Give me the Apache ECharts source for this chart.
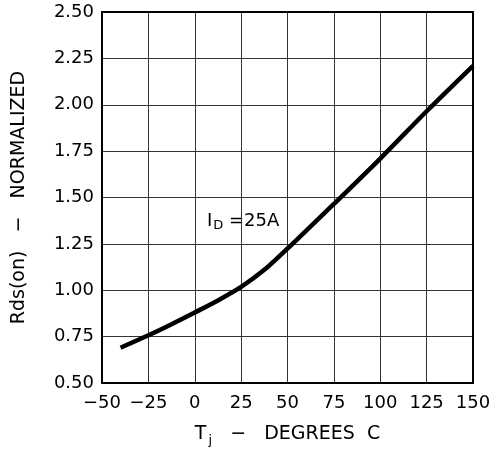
<!DOCTYPE html>
<html>
<head>
<meta charset="utf-8">
<script src="https://cdn.jsdelivr.net/npm/echarts@6/dist/echarts.min.js"></script>
<style>html,body{margin:0;padding:0;background:#fff}#c{width:500px;height:461px}</style>
</head>
<body>
<div id="c"></div>
<script>
var temps = [-40, -25, -12.5, 0, 12.5, 25, 37.5, 50, 62.5, 75, 100, 125, 150];
var rdsOn = [0.69, 0.757, 0.817, 0.88, 0.945, 1.018, 1.11, 1.225, 1.345, 1.465, 1.71, 1.965, 2.21];
var xTicks = [-50, -25, 0, 25, 50, 75, 100, 125, 150];
var yTicks = [0.50, 0.75, 1.00, 1.25, 1.50, 1.75, 2.00, 2.25, 2.50];

var FONT = 'DejaVu Sans';
var chart = echarts.init(document.getElementById('c'));
var pts = temps.map(function (t, i) { return [t, rdsOn[i]]; });
chart.setOption({
  animation: false,
  backgroundColor: '#fff',
  grid: {
    left: 102, right: 27, top: 12, bottom: 78, containLabel: false, outerBoundsMode: 'none',
    show: true, borderColor: '#000', borderWidth: 2, backgroundColor: 'transparent', z: 3
  },
  xAxis: {
    type: 'value', min: xTicks[0], max: xTicks[xTicks.length - 1], interval: 25,
    axisLine: { show: false },
    axisTick: { show: false },
    splitLine: { show: true, lineStyle: { color: '#333', width: 1 } },
    axisLabel: {
      margin: 11, color: '#000', fontFamily: FONT, fontSize: 18,
      formatter: function (v) { return v < 0 ? '\u2212' + Math.abs(v) : String(v); }
    },
    name: '{m|T}{s|j}{m|   \u2212   DEGREES  C}',
    nameLocation: 'middle', nameGap: 39,
    nameTextStyle: {
      rich: {
        m: { fontFamily: FONT, fontSize: 19, color: '#000' },
        s: { fontFamily: FONT, fontSize: 13, color: '#000', padding: [12, 0, 0, 2] }
      }
    }
  },
  yAxis: {
    type: 'value', min: yTicks[0], max: yTicks[yTicks.length - 1], interval: 0.25,
    axisLine: { show: false },
    axisTick: { show: false },
    splitLine: { show: true, lineStyle: { color: '#333', width: 1 } },
    axisLabel: {
      margin: 8, color: '#000', fontFamily: FONT, fontSize: 18,
      formatter: function (v) { return v.toFixed(2); }
    },
    name: 'Rds(on)   \u2212   NORMALIZED',
    nameLocation: 'middle', nameGap: 73,
    nameTextStyle: { fontFamily: FONT, fontSize: 19, color: '#000' }
  },
  graphic: [{
    type: 'text', left: 207, top: 212,
    style: {
      text: '{m|I}{s|D}{m| =25A}',
      rich: {
        m: { fontFamily: FONT, fontSize: 18, fill: '#000' },
        s: { fontFamily: FONT, fontSize: 13, fill: '#000', padding: [10, 0, 0, 1] }
      }
    }
  }],
  series: [{
    type: 'line', data: pts, smooth: 0.3, symbol: 'none',
    lineStyle: { color: '#000', width: 4.5 }
  }]
});
</script>
</body>
</html>
